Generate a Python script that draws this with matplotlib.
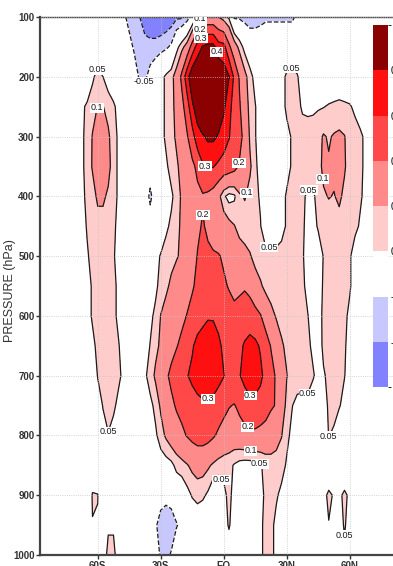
import numpy as np
import matplotlib.pyplot as plt
from matplotlib.colors import ListedColormap, BoundaryNorm
import matplotlib.cm as cm

plt.rcParams['font.family'] = ['Liberation Sans', 'DejaVu Sans']

# grid of the field: latitude columns (2.5 deg) and pressure rows (hPa)
lats = np.arange(-87.5, 87.6, 2.5)
plevs = np.arange(100, 1001, 50)

# values x 100, stored as (first column index, values) for the non-zero stretches
p100 = [(16, [-4, -7, -9, -10, -13, -15, -15, -15, -14, -13, -11, -11, -8, -2]),
        (30, [7, 10, 12, 12, 10, 7, 4]),
        (37, [-6, -6, -7, -8, -8, -7, -6, -6, -6, -6, -6, -6, -4])]
p150 = [(17, [-3, -6, -8, -8, -8, -8, -7, -6, -4]),
        (26, [3, 8, 13, 24, 34, 41, 43, 43, 34, 33, 22, 14, 8, 3])]
p200 = [(10, [4, 7, 5, 2]),
        (18, [-2, -6, -6, -3]),
        (23, [3, 6, 8, 13, 22, 36, 48, 52, 54, 55, 54, 50, 46, 40.5, 28, 19, 12, 7, 3]),
        (46, [3, 6, 7, 5.5, 2])]
p250 = [(8, [4, 6, 8, 10.2, 10.2, 8, 6, 3]),
        (23, [3, 6, 8, 12, 17, 25, 38, 46, 52, 54, 52, 47, 42, 33, 26, 21, 14, 8, 5.3, 2]),
        (46, [3, 6, 7, 6, 4.5, 4, 4, 4.5, 4.8, 5.5, 6, 6.5, 6, 5.5, 4, 2])]
p300 = [(8, [4, 7, 10.3, 13, 13, 11, 7, 4]),
        (23, [3, 6, 8, 11, 15, 19, 26, 36, 39, 42, 42, 39, 35, 30.5, 26, 23, 17, 9, 5.3, 2]),
        (47, [3.5, 5.5, 6, 6.5, 7, 7.5, 8.5, 10.5, 9.5, 10.5, 11, 10.2, 8, 7, 6, 4, 2])]
p350 = [(8, [4, 7, 10.5, 14, 14, 12, 7, 4]),
        (24, [4, 7, 9, 12, 15, 18, 22, 29, 31, 30.4, 28, 26, 25, 23, 19, 14, 11, 6, 3]),
        (47, [3.5, 5.5, 6, 6.5, 7, 7, 8.5, 11, 10.5, 11, 12, 10.5, 8, 7, 6, 4, 2])]
p400 = [(8, [4, 6, 8, 11, 11, 9, 7, 4]),
        (21, [-7]),
        (25, [4, 7, 11, 14, 16, 18, 19, 18, 16, 12, 6, 3, 4, 9, 10.5, 8, 6, 4.5, 2, 2,
              2, 3.5, 5.5, 6, 6, 5.5, 4.5, 4.5, 6, 9.5, 10.2, 9.8, 10.8, 9, 7, 6, 5.5, 4, 2])]
p450 = [(8, [3, 5.5, 7, 8, 8, 7, 6, 3.5]),
        (24, [4, 6, 8.5, 11, 14, 16, 18, 21, 18, 16, 15, 14, 12, 10.3, 8, 7, 6.5, 6, 5.2, 2,
              2, 2, 3.5, 5.5, 6, 6, 5.5, 4, 3.5, 5.5, 7, 8, 8.5, 8.5, 8, 7, 6, 4.5, 4, 2])]
p500 = [(9, [4.5, 6.5, 7.5, 7.5, 6.5, 5.5, 3]),
        (22, [3, 5.5, 7, 8.5, 9.5, 11, 13, 15, 20.5, 22, 22, 21, 20.5, 19, 16, 14, 13, 12, 10.5, 8,
              6, 6.2, 6.3, 6.3, 6.5, 6.5, 6.4, 6.2, 5.5, 3, 2, 2.5, 5.2, 6.5, 7, 7, 6.5, 5.5, 3])]
p550 = [(9, [3.5, 5.5, 7, 7.5, 7, 6, 4]),
        (22, [4, 6.5, 9, 11, 13, 15, 17, 19, 22, 24, 25, 24, 22.5, 21, 19.5, 18, 18.5, 19, 17, 13,
              11, 8, 7, 6.5, 6.5, 6.5, 6.5, 6.5, 6, 3.5, 2, 3, 5.5, 6.5, 7, 7, 6.5, 5.5, 3])]
p600 = [(9, [3.5, 5.5, 7, 7.5, 7, 6, 4]),
        (21, [4, 6, 10.2, 12, 14, 16, 18, 20.3, 23, 25, 27, 29, 29, 27, 25, 23, 22, 23, 25, 25,
              23, 20.5, 16, 12, 9.5, 7.5, 7, 7, 6.5, 6, 5.2, 2.5, 3, 6, 7, 7, 7, 6, 4, 2])]
p650 = [(10, [4, 6, 7.5, 7.5, 6.5, 5.2, 3]),
        (20, [3, 5.2, 8.5, 11, 14, 17, 19.5, 22, 25, 29, 33, 35, 36, 35, 32, 28, 26, 26, 28, 31,
              33, 32, 29, 24, 19.5, 14, 11, 8.5, 7.5, 7, 6.5, 6, 4, 2.5, 6, 7, 7, 6.5, 5.5, 3.5])]
p700 = [(10, [2.5, 5.2, 7, 7.5, 7, 6, 3.5]),
        (19, [2, 4, 7.5, 11, 15, 18.5, 22, 24.5, 27, 29.5, 32, 35, 37, 37, 36, 33, 30.3, 28, 28, 29.5,
              33, 36, 35, 32, 27, 23, 19, 14, 10.3, 8, 7.5, 7, 6.5, 5.5, 3.5, 4.5, 6, 6.5, 6, 5.2, 2.5])]
p750 = [(11, [3, 5.2, 6.5, 6, 3.5]),
        (21, [3.5, 6.5, 11, 15, 18, 21, 23, 25, 26, 27, 28, 28, 27, 25, 23, 20.5, 19.5, 22, 25, 27,
              27, 26, 24, 21, 19.5, 15, 8, 5.2, 3.5, 3.5, 4, 2, 0, 3.5, 5.5, 6, 5.5, 3])]
p800 = [(12, [3.5, 4.8, 3]),
        (22, [4, 7.5, 11, 14, 16, 18, 20.5, 22.5, 24, 24, 23, 21, 18.5, 16, 15, 15, 16, 17, 18, 18,
              17, 16, 15, 13, 10.3, 6, 4]),
        (54, [3, 5.1, 4.5])]
p850 = [(22, [1, 2, 2.5, 3.5, 6.5, 8, 9.5, 11.5, 12.5, 12.5, 11, 9, 7.5, 7, 6.5, 4.5, 3, 2.5, 2.5, 3,
              4.5, 6.5, 7, 7, 6.5, 4.5, 2])]
p900 = [(10, [5.5, 5.2]),
        (23, [-2, -3, -2.5]),
        (28, [3, 5.5, 7, 6, 4]),
        (35, [3.5, 6.5, 3]),
        (42, [3.5, 6, 6.5, 5.5, 4]),
        (54, [3.5, 6, 4.5, 4, 6, 4])]
p950 = [(10, [4.8, 4.5, 2, 4.5, 4.5, 2]),
        (22, [-4, -8, -9, -8, -5.5, -3]),
        (35, [3, 5.5, 2.5]),
        (42, [4, 6.5, 6, 4]),
        (54, [2, 4.8, 3, 3, 5.5, 3])]
p1000 = [(12, [3, 6, 6, 3]),
         (22, [-3, -5.5, -6.5, -4.5]),
         (36, [2]),
         (42, [4, 6.5, 6, 4]),
         (55, [2, 0, 0, 4])]

rows = [p100, p150, p200, p250, p300, p350, p400, p450, p500, p550,
        p600, p650, p700, p750, p800, p850, p900, p950, p1000]

shade_levels = [-1, -0.1, -0.05, 0.05, 0.1, 0.2, 0.3, 0.4, 1]
shade_colors = ['#8282ff', '#c8c8ff', '#ffffff', '#ffcccc', '#ff8a8a',
                '#ff4848', '#ff1010', '#8b0000']
line_levels = [-0.1, -0.05, 0.05, 0.1, 0.2, 0.3, 0.4]

# contour label spots (lat, hPa) per level
label_spots = {
    0.05: [(-60, 189), (31.9, 184), (21.4, 481), (40.5, 384), (18.6, 838), (-1.4, 875),
           (40, 749), (51.4, 813), (-54.3, 803), (56.7, 983)],
    0.1: [(-60, 252), (-11, 105), (9.5, 393), (51.4, 369), (12.9, 819)],
    0.2: [(-11, 122), (7.1, 344), (-10, 431), (12.9, 779)],
    0.3: [(-11, 135), (-9.5, 351), (-7.1, 744), (12.9, 737)],
    0.4: [(-5, 160)],
    -0.05: [(-38.1, 217)],
}

lat_ticks = [-60, -30, 0, 30, 60]
lat_labels = ['60S', '30S', 'EQ', '30N', '60N']
p_ticks = list(range(100, 1001, 100))

field = np.zeros((len(plevs), len(lats)))
for i, row in enumerate(rows):
    for j0, vals in row:
        field[i, j0:j0 + len(vals)] = vals
field = field / 100.0

fig = plt.figure(figsize=(3.93, 5.66), dpi=100)
ax = fig.add_axes([40 / 393, 11 / 566, 367.5 / 393, 538 / 566])

ax.contourf(lats, plevs, field, levels=shade_levels, colors=shade_colors)

label_texts = []
for lev in line_levels:
    c = ax.contour(lats, plevs, field, levels=[lev], colors='#1a1a1a', linewidths=0.9)
    if lev in label_spots:
        label_texts += ax.clabel(c, manual=label_spots[lev], inline=False, fontsize=6.5,
                                 fmt=lambda v: f'{v:g}')
for t in label_texts:
    t.set_rotation(0)
    t.set_bbox(dict(boxstyle='square,pad=0.05', fc='white', ec='none'))

ax.set_xlim(-87.5, 87.5)
ax.set_ylim(1000, 100)
ax.set_xticks(lat_ticks)
ax.set_xticklabels(lat_labels)
ax.set_yticks(p_ticks)
ax.tick_params(axis='both', labelsize=7, length=3, width=1, pad=1, colors='#333333')
for lab in ax.get_xticklabels() + ax.get_yticklabels():
    lab.set_fontweight('bold')
ax.grid(True, ls=':', color='#c4c4c4', lw=0.6)
ax.set_axisbelow(False)
ax.spines['right'].set_visible(False)
ax.spines['left'].set_linewidth(1.6)
ax.spines['bottom'].set_linewidth(1.6)
ax.spines['top'].set_linewidth(1.0)
for s in ax.spines.values():
    s.set_color('#444444')

fig.text(10 / 393, 1 - 291 / 566, 'PRESSURE (hPa)', rotation=90, ha='center', va='center',
         fontsize=9, color='#333333')

# colour key
cax = fig.add_axes([373 / 393, 1 - 387 / 566, 15 / 393, 362 / 566])
cbar_bounds = [-0.15, -0.1, -0.05, 0.05, 0.1, 0.2, 0.3, 0.4, 0.5]
sm = cm.ScalarMappable(norm=BoundaryNorm(cbar_bounds, len(shade_colors)),
                       cmap=ListedColormap(shade_colors))
cb = fig.colorbar(sm, cax=cax, spacing='uniform', ticks=cbar_bounds[1:-1])
cb.outline.set_visible(False)
cb.ax.tick_params(length=0, labelsize=7, pad=2)
cb.ax.set_yticklabels([f'{b:g}' for b in cbar_bounds[1:-1]])

fig.savefig('out.png', dpi=100)
